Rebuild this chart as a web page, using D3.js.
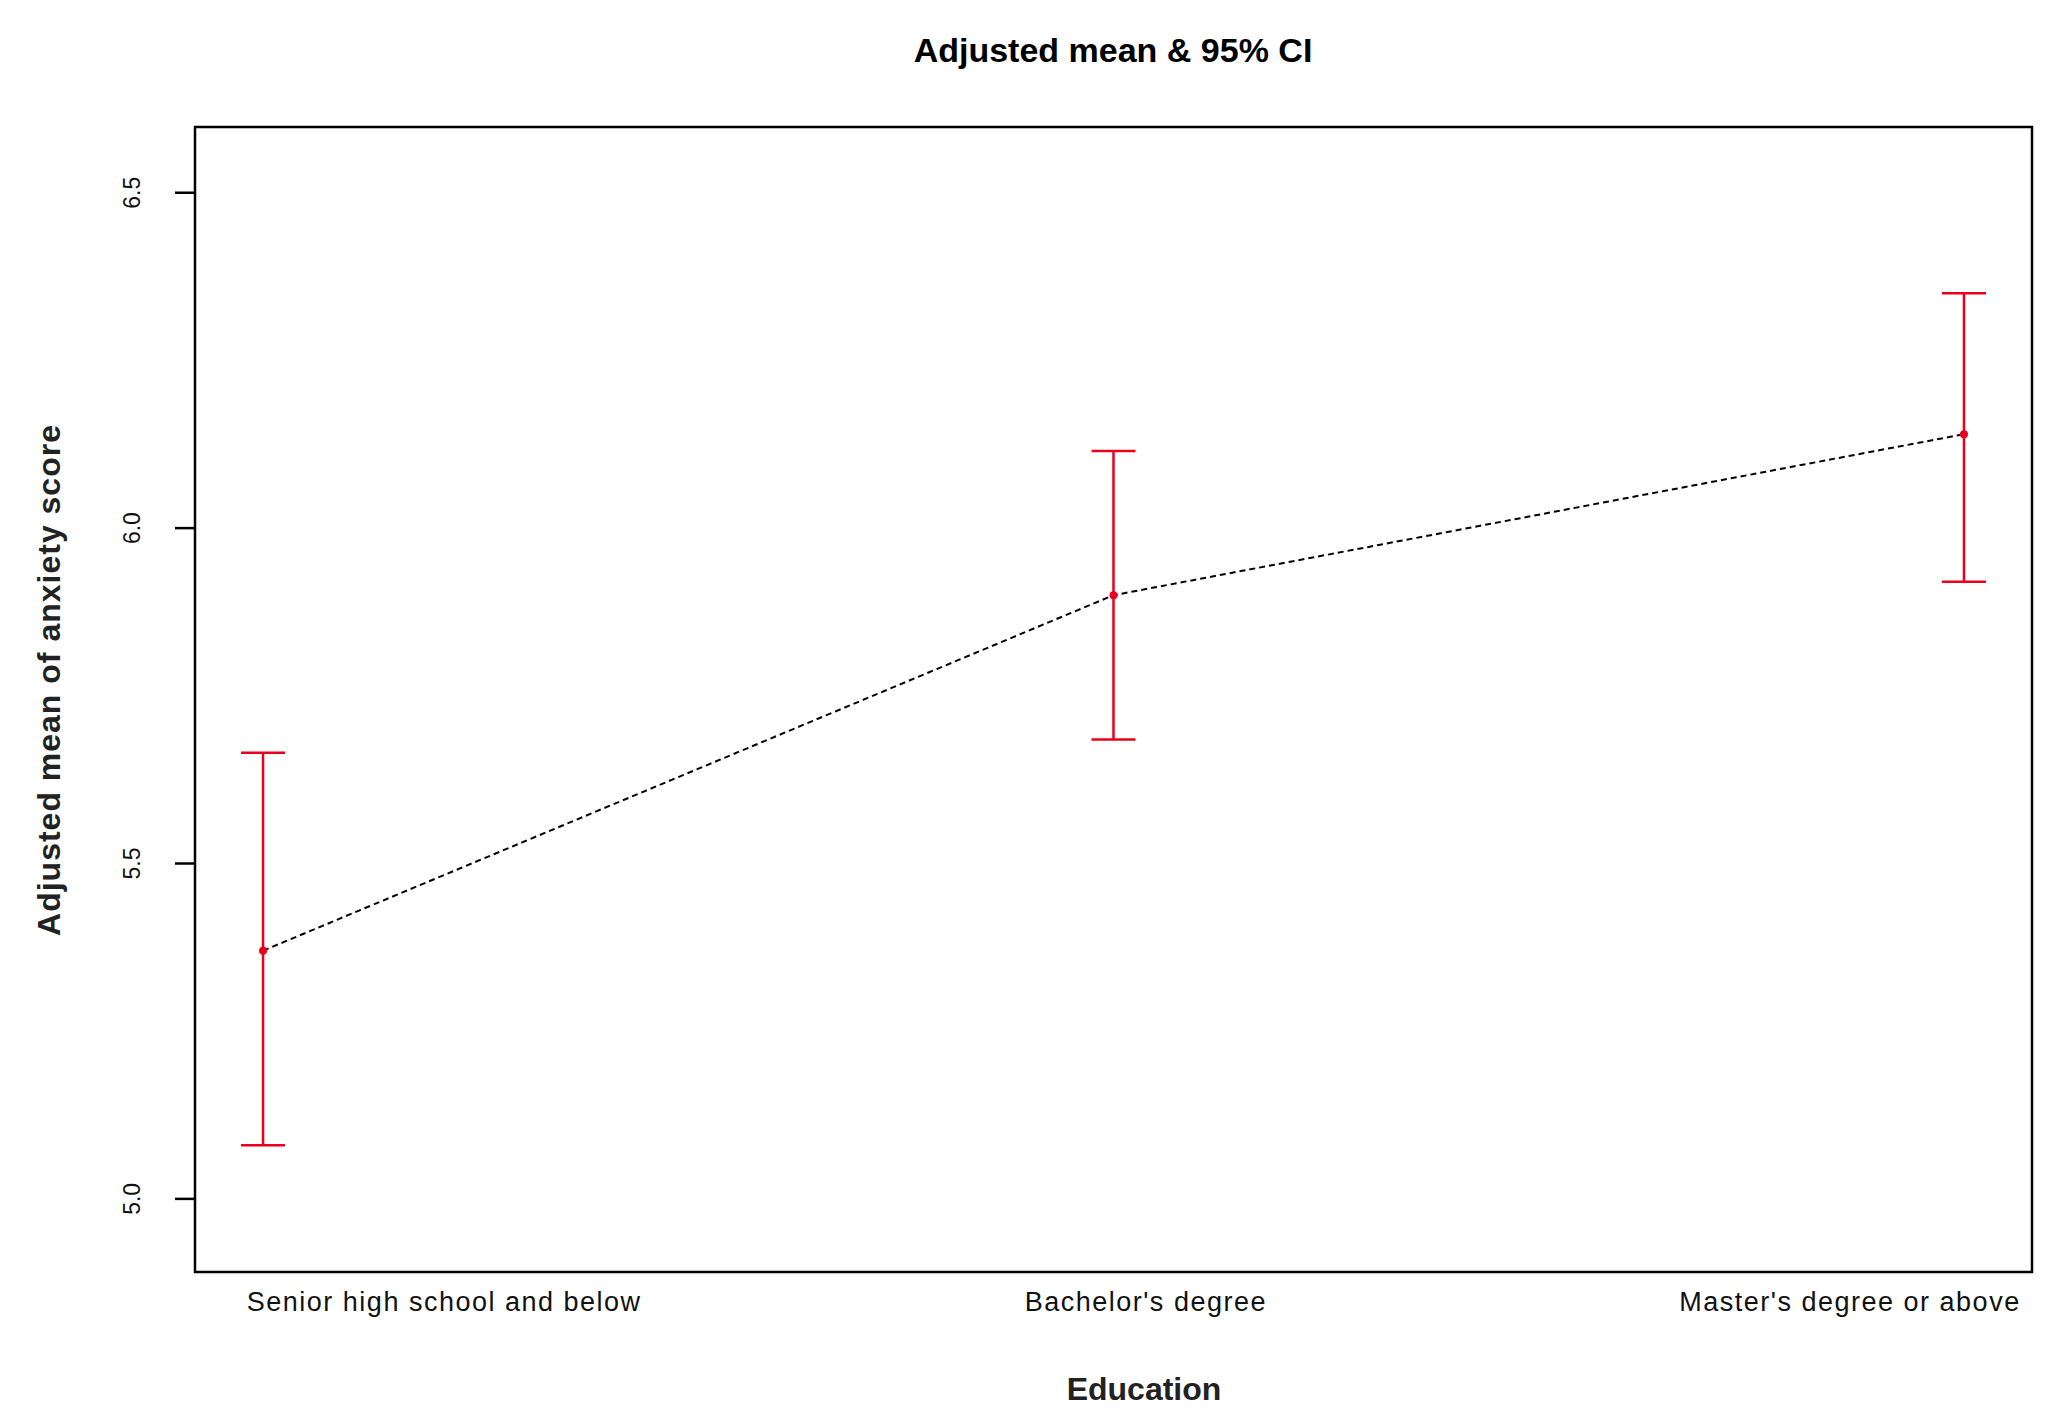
<!DOCTYPE html>
<html><head><meta charset="utf-8">
<script src="https://cdn.jsdelivr.net/npm/d3@7"></script>
<style>body{margin:0;background:#fff}</style></head>
<body><svg id="c" width="2060" height="1426"></svg>
<script>
const categories = ["Senior high school and below","Bachelor's degree","Master's degree or above"];
const means = [5.37, 5.90, 6.14];
const lower = [5.08, 5.685, 5.92];
const upper = [5.665, 6.115, 6.35];
const labelPos = [1.213, 2.038, 2.866];
const yTicks = [5.0, 5.5, 6.0, 6.5];

const svg = d3.select("#c");
const L=195,R=2032,T=127,B=1272;
const x = d3.scaleLinear().domain([0.92,3.08]).range([L,R]);
const y = d3.scaleLinear().domain([4.891,6.598]).range([B,T]);
const red="#e8001c";

svg.append("rect").attr("x",L).attr("y",T).attr("width",R-L).attr("height",B-T)
  .attr("fill","none").attr("stroke","#000").attr("stroke-width",2.5);

const ya = svg.append("g").attr("transform",`translate(${L},0)`)
  .call(d3.axisLeft(y).tickValues(yTicks).tickFormat(d3.format(".1f")).tickSize(20).tickPadding(0));
ya.select(".domain").remove();
ya.selectAll("line").attr("stroke-width",2.5);
ya.selectAll("text").attr("transform",d=>`translate(-63,${y(d)}) rotate(-90) translate(0,${-y(d)})`)
  .attr("x",0).attr("dy","0.35em").attr("text-anchor","middle")
  .style("font-family","'Liberation Sans', Arial").style("font-size","23px").attr("fill","#111");
ya.selectAll(".tick text").attr("transform",null).each(function(d){
  d3.select(this).attr("transform",`translate(-63,0) rotate(-90)`).attr("x",0).attr("y",0).attr("dy","0.35em");
});
ya.selectAll(".tick").attr("transform",d=>`translate(0,${y(d)})`);

const line = d3.line().x((d,i)=>x(i+1)).y(d=>y(d));
svg.append("path").datum(means).attr("d",line).attr("fill","none")
  .attr("stroke","#000").attr("stroke-width",2).attr("stroke-dasharray","6,4");

const g = svg.append("g");
categories.forEach((c,i)=>{
  const cx=x(i+1);
  g.append("line").attr("x1",cx).attr("x2",cx).attr("y1",y(lower[i])).attr("y2",y(upper[i])).attr("stroke",red).attr("stroke-width",2.5);
  [lower[i],upper[i]].forEach(v=>g.append("line").attr("x1",cx-22).attr("x2",cx+22).attr("y1",y(v)).attr("y2",y(v)).attr("stroke",red).attr("stroke-width",2.5));
  g.append("circle").attr("cx",cx).attr("cy",y(means[i])).attr("r",4).attr("fill",red);
  svg.append("text").attr("x",x(labelPos[i])).attr("y",1311).attr("text-anchor","middle")
    .style("font-family","'Liberation Sans Narrow','Arial Narrow',sans-serif").style("font-size","27px")
    .style("letter-spacing","1.5px").attr("fill","#111").text(c);
});

svg.append("text").attr("x",1113).attr("y",62).attr("text-anchor","middle")
  .style("font-family","'Liberation Sans', Arial").style("font-weight","bold").style("font-size","34px").text("Adjusted mean & 95% CI");
svg.append("text").attr("transform","translate(60,680) rotate(-90)").attr("text-anchor","middle")
  .style("font-family","'Liberation Sans', Arial").style("font-weight","bold").style("font-size","32px").style("letter-spacing","1px").attr("fill","#222").text("Adjusted mean of anxiety score");
svg.append("text").attr("x",1144).attr("y",1400).attr("text-anchor","middle")
  .style("font-family","'Liberation Sans', Arial").style("font-weight","bold").style("font-size","32px").attr("fill","#222").text("Education");
</script></body></html>
